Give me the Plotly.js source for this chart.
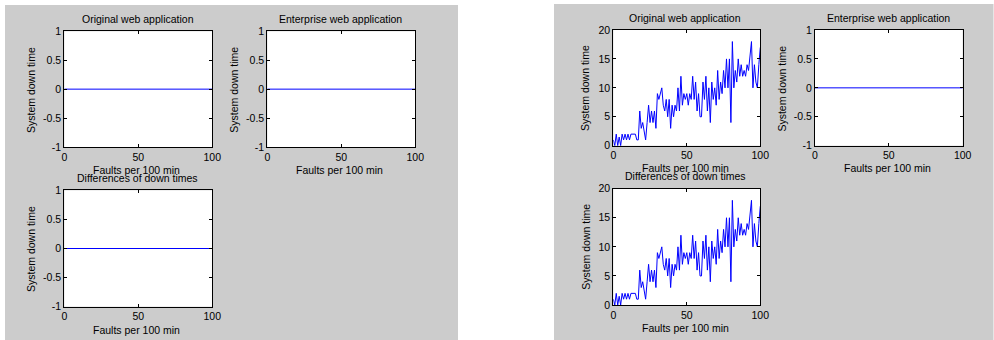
<!DOCTYPE html>
<html>
<head>
<meta charset="utf-8">
<script src="https://cdn.plot.ly/plotly-3.0.1.min.js"></script>
<style>
html,body{margin:0;padding:0;background:#ffffff;}
#chart{width:994px;height:340px;}
</style>
</head>
<body>
<div id="chart"></div>
<script>
// ---- Data ----
const panelTitles = ["Original web application", "Enterprise web application", "Differences of down times"];
const xLabel = "Faults per 100 min";
const yLabel = "System down time";
const xTicks = [0, 50, 100];
const yTicksUnit = [-1, -0.5, 0, 0.5, 1];
const yTickTextUnit = ["-1", "-0.5", "0", "0.5", "1"];
const yTicksData = [0, 5, 10, 15, 20];
const yTickTextData = ["0", "5", "10", "15", "20"];

// Left figure: everything is zero
const zeroX = [0, 100];
const zeroY = [0, 0];

// Right figure: faults 0..100 in steps of 1
const faultStart = 0;
const faultStep = 1;
const downTimeOriginal = [
  1, 0, 2, 0, 1.5, 0, 2, 1, 2, 1,
  2, 1, 2, 2, 2, 2, 1, 1, 6, 3,
  4, 2, 1, 4, 7, 4, 6, 4, 6, 3,
  9, 8, 9, 10, 7, 6, 8, 5, 8, 3,
  7, 5, 7, 6, 10, 6, 12, 7, 9, 8,
  9, 7, 9, 8, 12, 8, 11, 6, 9, 5,
  5, 11, 8, 12, 6, 10, 4, 11, 8, 10,
  7, 13, 8, 11, 9, 13, 10, 15, 10, 15,
  4, 18, 10, 13, 11, 15, 12, 14, 12, 13,
  12, 14, 13, 16, 18, 10, 14, 11, 10, 14,
  17
];
const downTimeEnterprise = zeroY;
const downTimeDifferences = downTimeOriginal; // enterprise is zero everywhere

// ---- Drawing ----
const W = 994, H = 340;
const px = v => v / W;
const py = v => 1 - v / H;
const FONT = {family: "Liberation Sans, Arial, sans-serif", size: 10.5, color: "#000000"};
const BLUE = "#0000ff";

// plot boxes in pixels: [left, right, top, bottom]
const boxes = [
  [64.3, 212.3, 31.3, 147],
  [267.3, 415.3, 31.3, 147],
  [64.3, 212.3, 190.3, 306.7],
  [613.3, 760.3, 30, 145.7],
  [815, 962.7, 30, 145.7],
  [613.3, 760.3, 188.7, 305]
];

const traces = [
  {x: zeroX, y: zeroY, xaxis: "x", yaxis: "y"},
  {x: zeroX, y: zeroY, xaxis: "x2", yaxis: "y2"},
  {x: zeroX, y: zeroY, xaxis: "x3", yaxis: "y3"},
  {x0: faultStart, dx: faultStep, y: downTimeOriginal, xaxis: "x4", yaxis: "y4"},
  {x: zeroX, y: downTimeEnterprise, xaxis: "x5", yaxis: "y5"},
  {x0: faultStart, dx: faultStep, y: downTimeDifferences, xaxis: "x6", yaxis: "y6"}
].map(t => Object.assign({type: "scatter", mode: "lines", line: {color: BLUE, width: 1}, hoverinfo: "skip", showlegend: false}, t));

const whiteRect = (x0, x1, y0, y1) => ({type: "rect", xref: "paper", yref: "paper",
  x0: px(x0), x1: px(x1), y0: py(y1), y1: py(y0), fillcolor: "#ffffff", line: {width: 0}, layer: "below"});

const layout = {
  width: W, height: H,
  margin: {l: 0, r: 0, t: 0, b: 0, pad: 0},
  paper_bgcolor: "#cccccc",
  plot_bgcolor: "#ffffff",
  font: FONT,
  showlegend: false,
  shapes: [
    whiteRect(0, 5, 0, 340),
    whiteRect(0, 458, 0, 5),
    whiteRect(458, 554, 0, 340),
    whiteRect(554, 994, 0, 4),
    whiteRect(993.5, 994, 0, 340)
  ],
  annotations: []
};

const yRanges = [[-1, 1], [-1, 1], [-1, 1], [0, 20], [-1, 1], [0, 20]];
const yTickSets = [yTicksUnit, yTicksUnit, yTicksUnit, yTicksData, yTicksUnit, yTicksData];
const yTickTexts = [yTickTextUnit, yTickTextUnit, yTickTextUnit, yTickTextData, yTickTextUnit, yTickTextData];

boxes.forEach((b, i) => {
  const n = i === 0 ? "" : String(i + 1);
  const common = {
    showline: true, linecolor: "#000000", linewidth: 1, mirror: "ticks",
    ticks: "inside", ticklen: 3, tickwidth: 1, tickcolor: "#000000",
    showgrid: false, zeroline: false, fixedrange: true,
    tickfont: FONT
  };
  layout["xaxis" + n] = Object.assign({}, common, {
    domain: [px(b[0]), px(b[1])], anchor: "y" + n,
    range: [0, 100], tickmode: "array", tickvals: xTicks
  });
  layout["yaxis" + n] = Object.assign({}, common, {
    domain: [py(b[3]), py(b[2])], anchor: "x" + n,
    range: yRanges[i], tickmode: "array", tickvals: yTickSets[i], ticktext: yTickTexts[i]
  });
});

function ann(text, x, y, angle) {
  layout.annotations.push({
    text: text, xref: "paper", yref: "paper", x: px(x), y: py(y),
    xanchor: "center", yanchor: "middle", showarrow: false,
    textangle: angle || 0, font: FONT
  });
}

// titles [x, y]
const titlePos = [[137.5, 19], [340.7, 19], [137.3, 178.3], [685.3, 17.7], [888, 17.7], [685.7, 176.3]];
const titleIdx = [0, 1, 2, 0, 1, 2];
titlePos.forEach((p, i) => ann(panelTitles[titleIdx[i]], p[0], p[1]));
// x labels
const xlabPos = [[136.7, 170], [339.7, 170], [136.7, 329.7], [685, 168.3], [887, 168.3], [685, 327.7]];
xlabPos.forEach(p => ann(xLabel, p[0], p[1]));
// y labels
const ylabPos = [[30.3, 89.7], [234, 89.7], [30.3, 248.7], [585.7, 88.3], [782.3, 88.3], [585.7, 247]];
ylabPos.forEach(p => ann(yLabel, p[0], p[1], -90));

Plotly.newPlot("chart", traces, layout, {staticPlot: true, displayModeBar: false});
</script>
</body>
</html>
